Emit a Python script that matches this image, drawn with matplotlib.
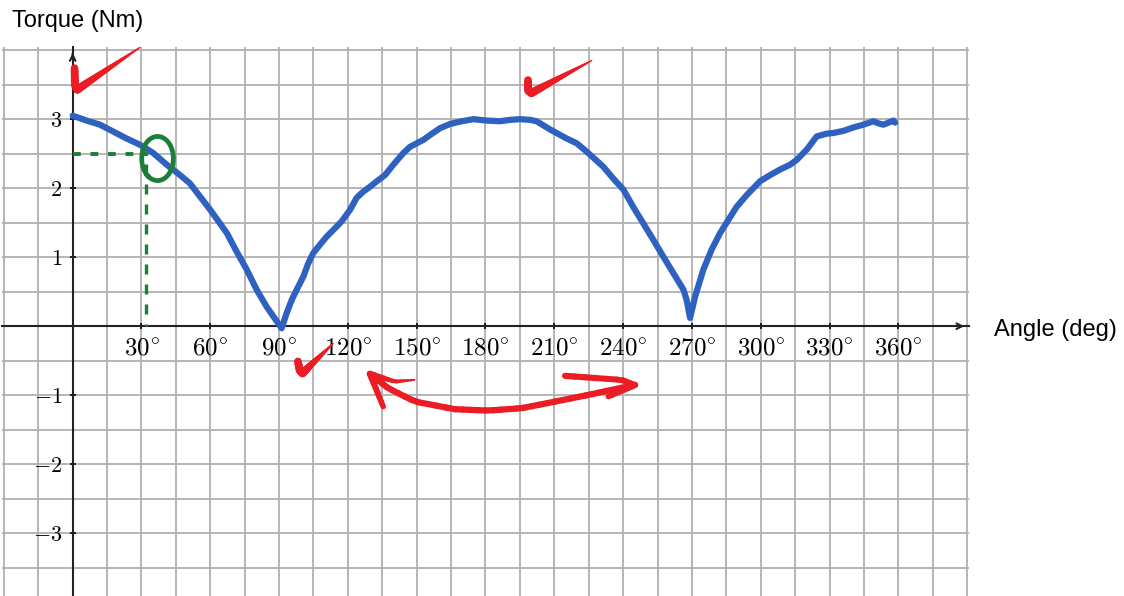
import matplotlib
matplotlib.use("Agg")
import matplotlib.pyplot as plt
from matplotlib.collections import LineCollection
from matplotlib.ticker import MultipleLocator, FixedLocator
import numpy as np

plt.rcParams['mathtext.fontset'] = 'cm'

# hand drawn torque curve (deg, Nm)
angle = [0, 6.1, 11.9, 17.7, 23.5, 29.3, 35.1, 41.0, 46.8, 51.1, 55.5, 59.9, 64.2, 67.2,
         71.5, 75.9, 80.2, 84.6, 89.0, 91.1, 93.3, 95.5, 97.7, 100.6, 102.7, 104.9,
         107.8, 110.8, 114.4, 117.3, 121.0, 123.8, 126.7, 129.6, 132.6, 136.2, 139.8,
         144.2, 147.1, 150.0, 152.9, 155.8, 160.2, 164.5, 169.6, 174.7, 180.5, 186.3,
         190.7, 195.0, 199.4, 202.3, 208.2, 215.4, 219.8, 224.1, 231.4, 235.7, 240.1,
         244.4, 248.8, 253.2, 257.5, 261.9, 266.3, 267.7, 269.2, 271.4, 275.0, 278.6,
         282.3, 285.9, 289.5, 293.9, 299.7, 304.1, 308.4, 312.8, 315.7, 320.1, 324.4,
         328.8, 331.7, 336.0, 340.4, 344.7, 349.1, 351.3, 353.5, 355.7, 357.9, 358.6]
torque = [3.05, 2.98, 2.92, 2.82, 2.72, 2.63, 2.51, 2.34, 2.19, 2.07, 1.88, 1.69, 1.49, 1.35,
          1.08, 0.82, 0.53, 0.28, 0.07, -0.03, 0.19, 0.38, 0.53, 0.72, 0.91, 1.06,
          1.18, 1.30, 1.42, 1.52, 1.69, 1.86, 1.95, 2.02, 2.10, 2.19, 2.34,
          2.51, 2.60, 2.65, 2.70, 2.77, 2.87, 2.93, 2.97, 3.00, 2.98, 2.97,
          2.99, 3.00, 2.99, 2.97, 2.85, 2.72, 2.65, 2.53, 2.31, 2.14, 1.98,
          1.73, 1.49, 1.25, 1.01, 0.77, 0.53, 0.38, 0.12, 0.43, 0.82, 1.11,
          1.35, 1.54, 1.73, 1.90, 2.10, 2.19, 2.27, 2.34, 2.41, 2.56, 2.75,
          2.79, 2.80, 2.83, 2.88, 2.92, 2.97, 2.94, 2.92, 2.95, 2.98, 2.95]

x_ticks = [30, 60, 90, 120, 150, 180, 210, 240, 270, 300, 330, 360]
x_labels = [r'$%d^{\circ}$' % v for v in x_ticks]
y_ticks = [-3, -2, -1, 1, 2, 3]
y_labels = [r'$%d$' % v for v in y_ticks]

# red / green pen marks
check1_x, check1_y = [0.8, 1.0, 2.0, 29.3], [3.74, 3.50, 3.43, 4.04]
check2_x, check2_y = [198.5, 198.5, 200.0, 226.3], [3.57, 3.42, 3.38, 3.85]
check3_x, check3_y = [98.2, 99.0, 100.2, 113.6], [-0.51, -0.64, -0.68, -0.25]
arrow_x = [129.6, 137.6, 149.3, 166.7, 181.2, 195.8, 210.3, 224.8, 236.5, 245.2]
arrow_y = [-0.691, -0.899, -1.093, -1.203, -1.223, -1.188, -1.093, -0.996, -0.913, -0.851]
barb_left_up_x, barb_left_up_y = [129.6, 140.5, 149.0], [-0.691, -0.803, -0.778]
barb_left_dn_x, barb_left_dn_y = [129.6, 135.4], [-0.691, -1.165]
barb_right_up_x, barb_right_up_y = [214.7, 239.4, 245.2], [-0.720, -0.778, -0.851]
barb_right_dn_x, barb_right_dn_y = [245.2, 233.6], [-0.851, -1.02]
read_angle, read_torque = 32.0, 2.5

RED = '#ec1c24'
BLUE = '#2f62c0'
GREEN = '#1b7f3a'


def stroke(ax, xs, ys, w0, w1, color, n=40):
    # pen stroke that changes width along the path
    px = np.interp(np.linspace(0, len(xs) - 1, n), np.arange(len(xs)), xs)
    py = np.interp(np.linspace(0, len(ys) - 1, n), np.arange(len(ys)), ys)
    segs = [[(px[i], py[i]), (px[i + 1], py[i + 1])] for i in range(n - 1)]
    lc = LineCollection(segs, linewidths=np.linspace(w0, w1, n - 1), colors=color,
                        capstyle='round', joinstyle='round', clip_on=False, zorder=5)
    ax.add_collection(lc)


def check(ax, xs, ys):
    stroke(ax, xs[:3], ys[:3], 5.5, 6, RED, n=10)
    stroke(ax, xs[2:], ys[2:], 6, 1, RED)


fig = plt.figure(figsize=(11.24, 5.96), dpi=100)
ax = fig.add_axes([1.6 / 1124, 0, 967.8 / 1124, 549 / 596])
ax.set_xlim(-31, 391)
ax.set_ylim(-3.91, 4.046)

ax.spines['left'].set_position(('data', 0))
ax.spines['bottom'].set_position(('data', 0))
ax.spines['right'].set_visible(False)
ax.spines['top'].set_visible(False)
for s in ['left', 'bottom']:
    ax.spines[s].set_linewidth(1.5)
    ax.spines[s].set_color('#222222')

ax.xaxis.set_major_locator(FixedLocator(x_ticks))
ax.yaxis.set_major_locator(FixedLocator(y_ticks))
ax.xaxis.set_minor_locator(MultipleLocator(15))
ax.yaxis.set_minor_locator(MultipleLocator(0.5))
ax.set_xticklabels(x_labels, fontsize=18)
ax.set_yticklabels(y_labels, fontsize=16)
ax.tick_params(axis='x', which='major', direction='inout', length=5, width=1.2, pad=4.5)
ax.tick_params(axis='y', which='major', direction='inout', length=5, width=1.2, pad=5)
ax.tick_params(which='minor', length=0)
ax.grid(which='both', color='#b0b0b0', lw=1.3)
ax.set_axisbelow(True)

ax.annotate('', xy=(0, 4.0), xytext=(0, 3.9),
            arrowprops=dict(arrowstyle='->', lw=1.5, color='#222222'), annotation_clip=False)
ax.annotate('', xy=(390, 0), xytext=(385, 0),
            arrowprops=dict(arrowstyle='->', lw=1.5, color='#222222'), annotation_clip=False)

ax.plot(angle, torque, color=BLUE, lw=4.5, solid_capstyle='round', solid_joinstyle='round', zorder=4)

# green read-off
ax.plot([0, read_angle + 1], [read_torque, read_torque], color=GREEN, lw=2.8,
        linestyle=(0, (2, 2.5)), zorder=4)
ax.plot([read_angle, read_angle], [read_torque - 0.15, 0], color=GREEN, lw=2.4,
        linestyle=(0, (3, 3)), zorder=4)
t = np.linspace(np.radians(230), np.radians(590), 80)
ax.plot(37.0 + 6.9 * np.cos(t), 2.43 + 0.32 * np.sin(t), color=GREEN, lw=3.4, zorder=5)

check(ax, check1_x, check1_y)
check(ax, check2_x, check2_y)
check(ax, check3_x, check3_y)

# red double arrow
stroke(ax, arrow_x, arrow_y, 4.5, 4.5, RED)
stroke(ax, barb_left_up_x, barb_left_up_y, 4.5, 1.5, RED, n=12)
stroke(ax, barb_left_dn_x, barb_left_dn_y, 4.5, 4, RED, n=8)
stroke(ax, barb_right_up_x, barb_right_up_y, 4.5, 4, RED, n=12)
stroke(ax, barb_right_dn_x, barb_right_dn_y, 4.5, 4, RED, n=8)

fig.text(12 / 1124, 1 - 21 / 596, 'Torque (Nm)', family='Liberation Sans', fontsize=17, va='center')
fig.text(994 / 1124, 1 - 330 / 596, 'Angle (deg)', family='Liberation Sans', fontsize=17, va='center')

fig.savefig('out.png', dpi=100)
